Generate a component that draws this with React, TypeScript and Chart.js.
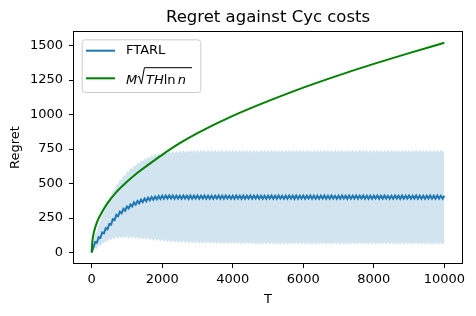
import React, { useEffect, useRef } from "react";
import { Chart, registerables } from "chart.js";

Chart.register(...registerables);

const TITLE = "Regret against Cyc costs";
const X_LABEL = "T";
const Y_LABEL = "Regret";
const SERIES_LABEL = "FTARL";

// T grid step for the FTARL series
const T_STEP = 50;

// FTARL mean regret, one value every T_STEP rounds (T = 0 .. 10000)
const MEAN = [
  0, 35, 76, 72, 111, 107, 146, 139, 176, 169,
  206, 201, 241, 235, 273, 263, 296, 284, 316, 303,
  333, 319, 348, 334, 363, 347, 374, 357, 383, 365,
  391, 372, 397, 378, 402, 382, 406, 386, 409, 388,
  411, 390, 413, 391, 413, 391, 413, 390, 412, 391,
  412, 390, 413, 391, 412, 389, 413, 390, 412, 391,
  413, 390, 412, 391, 413, 390, 411, 389, 412, 390,
  412, 391, 413, 390, 412, 390, 413, 391, 411, 390,
  412, 390, 413, 391, 412, 389, 413, 390, 412, 391,
  413, 390, 412, 391, 413, 390, 411, 389, 412, 390,
  412, 391, 413, 390, 412, 390, 413, 391, 411, 390,
  412, 390, 413, 391, 412, 389, 413, 390, 412, 391,
  413, 390, 412, 391, 413, 390, 411, 389, 412, 390,
  412, 391, 413, 390, 412, 390, 413, 391, 411, 390,
  412, 390, 413, 391, 412, 389, 413, 390, 412, 391,
  413, 390, 412, 391, 413, 390, 411, 389, 412, 390,
  412, 391, 413, 390, 412, 390, 413, 391, 411, 390,
  412, 390, 413, 391, 412, 389, 413, 390, 412, 391,
  413, 390, 412, 391, 413, 390, 411, 389, 412, 390,
  412, 391, 413, 390, 412, 390, 413, 391, 411, 390,
  412,
];

// upper edge of the shaded band
const UPPER = [
  0, 75, 130, 150, 210, 225, 280, 293, 345, 353,
  400, 405, 450, 453, 495, 493, 530, 525, 560, 555,
  590, 583, 615, 605, 635, 625, 655, 643, 670, 658,
  685, 672, 698, 683, 708, 692, 716, 699, 722, 705,
  728, 710, 732, 714, 735, 716, 737, 718, 739, 720,
  741, 721, 742, 722, 743, 723, 744, 724, 745, 725,
  745, 725, 744, 726, 745, 724, 746, 725, 745, 726,
  744, 725, 745, 726, 744, 725, 745, 724, 746, 725,
  745, 726, 745, 725, 744, 724, 745, 726, 744, 725,
  745, 725, 744, 726, 745, 724, 746, 725, 745, 726,
  744, 725, 745, 726, 744, 725, 745, 724, 746, 725,
  745, 726, 745, 725, 744, 724, 745, 726, 744, 725,
  745, 725, 744, 726, 745, 724, 746, 725, 745, 726,
  744, 725, 745, 726, 744, 725, 745, 724, 746, 725,
  745, 726, 745, 725, 744, 724, 745, 726, 744, 725,
  745, 725, 744, 726, 745, 724, 746, 725, 745, 726,
  744, 725, 745, 726, 744, 725, 745, 724, 746, 725,
  745, 726, 745, 725, 744, 724, 745, 726, 744, 725,
  745, 725, 744, 726, 745, 724, 746, 725, 745, 726,
  744, 725, 745, 726, 744, 725, 745, 724, 746, 725,
  745,
];

// lower edge of the shaded band
const LOWER = [
  0, 15, 34, 26, 54, 46, 74, 64, 89, 77,
  101, 87, 109, 94, 114, 98, 117, 100, 119, 101,
  119, 101, 118, 100, 117, 98, 115, 96, 113, 93,
  110, 90, 107, 87, 104, 84, 101, 82, 98, 79,
  96, 77, 93, 74, 91, 72, 89, 70, 87, 69,
  86, 68, 85, 67, 84, 66, 83, 65, 82, 64,
  81, 63, 81, 62, 80, 62, 80, 61, 79, 61,
  79, 61, 79, 60, 78, 60, 78, 60, 77, 59,
  77, 59, 77, 59, 76, 58, 76, 58, 76, 58,
  76, 58, 75, 57, 75, 57, 75, 57, 75, 57,
  75, 57, 74, 57, 75, 56, 75, 57, 74, 57,
  75, 57, 75, 56, 74, 57, 75, 57, 75, 56,
  74, 57, 75, 57, 75, 56, 74, 57, 75, 57,
  75, 57, 74, 57, 75, 56, 75, 57, 74, 57,
  75, 57, 75, 56, 74, 57, 75, 57, 75, 56,
  74, 57, 75, 57, 75, 56, 74, 57, 75, 57,
  75, 57, 74, 57, 75, 56, 75, 57, 74, 57,
  75, 57, 75, 56, 74, 57, 75, 57, 75, 56,
  74, 57, 75, 57, 75, 56, 74, 57, 75, 57,
  75, 57, 74, 57, 75, 56, 75, 57, 74, 57,
  75,
];

// theoretical bound  M sqrt(T H ln n)
const BOUND_T = [0, 20, 60, 150, 300, 450, 700, 1000, 1300, 1600, 2000, 2500, 3000, 4000, 5000, 6000, 7000, 8000, 9000, 10000];
const BOUND = [0, 78, 142, 218, 296, 358, 438, 512, 578, 635, 708, 792, 865, 990, 1097, 1195, 1284, 1367, 1445, 1520];

const X_TICKS = [0, 2000, 4000, 6000, 8000, 10000];
const Y_TICKS = [0, 250, 500, 750, 1000, 1250, 1500];

const FONT = "'DejaVu Sans', 'Liberation Sans', sans-serif";

const framePlugin = {
  id: "frameAndLegend",
  afterDatasetsDraw(chart: any) {
    const { ctx, chartArea: a } = chart;
    ctx.save();
    // spines
    ctx.strokeStyle = "#000";
    ctx.lineWidth = 1;
    ctx.strokeRect(Math.round(a.left) - 0.5, Math.round(a.top) - 0.5, Math.round(a.right - a.left) + 1, Math.round(a.bottom - a.top) + 1);

    // legend box
    const bx = a.left + 7.7;
    const by = a.top + 7.3;
    const bw = 118.6;
    const bh = 52.7;
    ctx.beginPath();
    (ctx as any).roundRect(bx + 0.5, by + 0.5, bw, bh, 3);
    ctx.fillStyle = "rgba(255,255,255,0.8)";
    ctx.fill();
    ctx.strokeStyle = "#cccccc";
    ctx.lineWidth = 1;
    ctx.stroke();

    const r1 = by + 11.4;
    const r2 = by + 39;
    const lx0 = bx + 4.3;
    const lx1 = bx + 33.3;
    const tx = bx + 44.3;

    ctx.lineWidth = 2;
    ctx.strokeStyle = "#1f77b4";
    ctx.beginPath();
    ctx.moveTo(lx0, r1);
    ctx.lineTo(lx1, r1);
    ctx.stroke();
    ctx.strokeStyle = "#008000";
    ctx.beginPath();
    ctx.moveTo(lx0, r2);
    ctx.lineTo(lx1, r2);
    ctx.stroke();

    ctx.fillStyle = "#000";
    ctx.textBaseline = "middle";
    ctx.textAlign = "left";
    ctx.font = `13px ${FONT}`;
    ctx.fillText(SERIES_LABEL, tx, r1);

    // math label  M sqrt(TH ln n)
    const base = by + 44.4;
    ctx.textBaseline = "alphabetic";
    let x = tx;
    ctx.font = `italic 13px ${FONT}`;
    ctx.fillText("M", x, base);
    x += ctx.measureText("M").width;
    const r0 = x;
    const barY = base - 16;
    x = r0 + 8.8;
    ctx.fillText("TH", x, base);
    x += ctx.measureText("TH").width;
    ctx.font = `13px ${FONT}`;
    ctx.fillText("ln", x, base);
    x += ctx.measureText("ln").width + 2.2;
    ctx.font = `italic 13px ${FONT}`;
    ctx.fillText("n", x, base);
    x += ctx.measureText("n").width;
    const barEnd = x + 6;
    ctx.strokeStyle = "#000";
    ctx.lineWidth = 1;
    ctx.beginPath();
    ctx.moveTo(r0 + 0.4, base - 6.5);
    ctx.lineTo(r0 + 1.9, base - 7.4);
    ctx.lineTo(r0 + 4.2, base + 0.3);
    ctx.lineTo(r0 + 7.2, barY);
    ctx.lineTo(barEnd, barY);
    ctx.stroke();
    ctx.restore();
  },
};

export default function App() {
  const ref = useRef<HTMLCanvasElement | null>(null);

  useEffect(() => {
    document.body.style.margin = "0";
    const canvas = ref.current;
    if (!canvas) return;
    const tickFont = { family: FONT, size: 13 };
    const chart = new Chart(canvas, {
      type: "line",
      data: {
        datasets: [
          {
            label: "bound",
            data: BOUND_T.map((t, i) => ({ x: t, y: BOUND[i] })),
            borderColor: "#008000",
            borderWidth: 2,
            pointRadius: 0,
            cubicInterpolationMode: "monotone",
            fill: false,
          },
          {
            label: SERIES_LABEL,
            data: MEAN.map((v, i) => ({ x: i * T_STEP, y: v })),
            borderColor: "#1f77b4",
            borderWidth: 2,
            pointRadius: 0,
            fill: false,
          },
          {
            label: "upper",
            data: UPPER.map((v, i) => ({ x: i * T_STEP, y: v })),
            borderColor: "transparent",
            borderWidth: 0,
            pointRadius: 0,
            fill: "+1",
            backgroundColor: "rgba(31,119,180,0.2)",
          },
          {
            label: "lower",
            data: LOWER.map((v, i) => ({ x: i * T_STEP, y: v })),
            borderColor: "transparent",
            borderWidth: 0,
            pointRadius: 0,
            fill: false,
          },
        ],
      },
      options: {
        animation: false,
        responsive: false,
        events: [],
        layout: { padding: { left: 0, right: 14, top: 0, bottom: 0 } },
        plugins: {
          legend: { display: false },
          tooltip: { enabled: false },
          title: {
            display: true,
            text: TITLE,
            fullSize: false,
            color: "#000",
            font: { family: FONT, size: 16.5, weight: "normal" },
            padding: { top: 8.1, bottom: 4.1 },
          },
        },
        scales: {
          x: {
            type: "linear",
            min: -500,
            max: 10500,
            afterFit: (s: any) => {
              s.height = 53;
            },
            afterBuildTicks: (s: any) => {
              s.ticks = X_TICKS.map((v) => ({ value: v }));
            },
            ticks: {
              color: "#000",
              font: tickFont,
              padding: 4,
              maxRotation: 0,
              autoSkip: false,
              callback: (v: any) => String(v),
            },
            grid: { drawOnChartArea: false, color: "#000", tickLength: 5, tickWidth: 1 },
            border: { display: false },
            title: {
              display: true,
              text: X_LABEL,
              color: "#000",
              font: tickFont,
              padding: { top: 0, bottom: 8.2 },
            },
          },
          y: {
            type: "linear",
            min: -76,
            max: 1598,
            afterFit: (s: any) => {
              s.width = 74;
            },
            afterBuildTicks: (s: any) => {
              s.ticks = Y_TICKS.map((v) => ({ value: v }));
            },
            ticks: {
              color: "#000",
              font: tickFont,
              padding: 6,
              autoSkip: false,
              callback: (v: any) => String(v),
            },
            grid: { drawOnChartArea: false, color: "#000", tickLength: 5, tickWidth: 1 },
            border: { display: false },
            title: {
              display: true,
              text: Y_LABEL,
              color: "#000",
              font: tickFont,
              padding: { top: 7.7, bottom: 0 },
            },
          },
        },
      },
      plugins: [framePlugin],
    } as any);
    return () => chart.destroy();
  }, []);

  return <canvas ref={ref} width={476} height={316} style={{ display: "block" }} />;
}
